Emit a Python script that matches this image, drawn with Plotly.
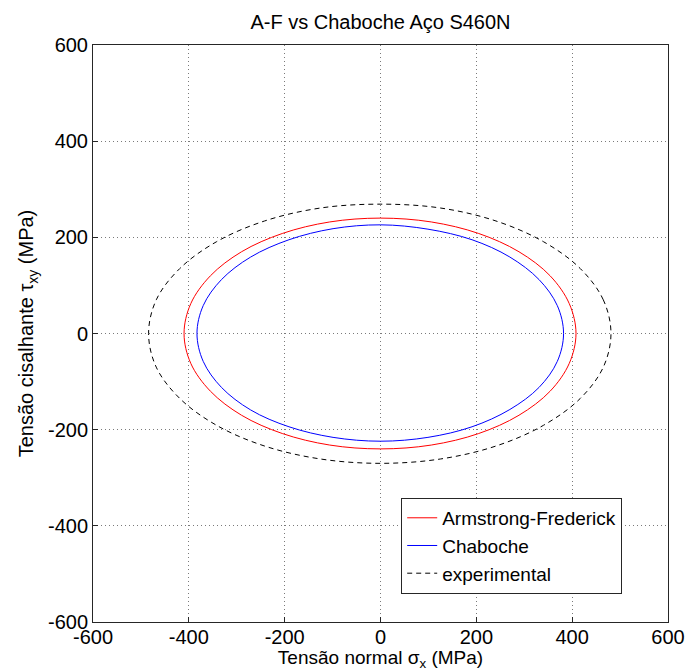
import plotly.graph_objects as go

# Armstrong-Frederick (red)
af_x = [408, 394, 354, 289, 205, 106, 0, -106, -205, -290, -355, -396, -410,
        -396, -355, -290, -205, -106, 0, 106, 205, 289, 354, 394, 408]
af_y = [0, 62, 120, 170, 208, 232, 240, 232, 208, 170, 120, 62, 0,
        -62, -120, -170, -208, -232, -240, -232, -208, -170, -120, -62, 0]

# Chaboche (blue)
ch_x = [382, 369, 331, 270, 191, 99, 0, -99, -191, -271, -332, -370, -383,
        -370, -332, -271, -191, -99, 0, 99, 191, 270, 331, 369, 382]
ch_y = [0, 58, 112, 159, 195, 217, 226, 218, 195, 159, 112, 58, 0,
        -58, -112, -159, -194, -216, -224, -216, -194, -158, -112, -58, 0]

# experimental (black dashed)
ex_x = [481, 465, 417, 340, 241, 125, 0, -125, -242, -342, -419, -468, -484,
        -468, -419, -342, -242, -125, 0, 125, 241, 340, 417, 465, 481]
ex_y = [0, 70, 135, 191, 234, 261, 269, 261, 234, 191, 135, 70, 0,
        -70, -135, -191, -234, -261, -270, -261, -234, -191, -135, -70, 0]

ticks = [-600, -400, -200, 0, 200, 400, 600]

fig = go.Figure()
fig.add_trace(go.Scatter(x=af_x, y=af_y, mode="lines", name="Armstrong-Frederick",
                         line=dict(color="#ff0000", width=1, shape="spline")))
fig.add_trace(go.Scatter(x=ch_x, y=ch_y, mode="lines", name="Chaboche",
                         line=dict(color="#0000ff", width=1, shape="spline")))
fig.add_trace(go.Scatter(x=ex_x, y=ex_y, mode="lines", name="experimental",
                         line=dict(color="#000000", width=1, dash="5px,4px", shape="spline")))

font = "Liberation Sans, Arial, sans-serif"
axis_common = dict(
    range=[-600, 600], tickvals=ticks, ticktext=[str(t) for t in ticks],
    showgrid=True, gridcolor="#7a7a7a", griddash="1px,3px", gridwidth=1,
    zeroline=False, showline=True, linecolor="#262626", linewidth=1, mirror=True,
    ticks="inside", ticklen=5, tickcolor="#262626", automargin=False,
    tickfont=dict(family=font, size=20, color="#000000"),
)

fig.update_layout(
    template="none",
    width=686, height=671,
    margin=dict(l=93, r=18, t=45, b=49, pad=0),
    paper_bgcolor="white", plot_bgcolor="white",
    title=dict(text="A-F vs Chaboche Aço S460N", x=(93 + 287.5) / 686, xanchor="center",
               y=1 - 22 / 671, yanchor="middle",
               font=dict(family=font, size=20, color="#000000")),
    xaxis=dict(**axis_common, ticklabelstandoff=-3,
               title=dict(text="Tensão normal σ<sub>x</sub> (MPa)", standoff=5,
                          font=dict(family=font, size=19, color="#000000"))),
    yaxis=dict(**axis_common,
               title=dict(text="Tensão cisalhante τ<sub>xy</sub> (MPa)", standoff=8,
                          font=dict(family=font, size=20, color="#000000"))),
    legend=dict(x=0.536, y=0.215, xanchor="left", yanchor="top",
                bgcolor="white", bordercolor="#262626", borderwidth=1,
                font=dict(family=font, size=19, color="#000000"),
                itemwidth=30, tracegroupgap=0),
    showlegend=True,
    hovermode=False,
)

fig.write_html("out.html")
